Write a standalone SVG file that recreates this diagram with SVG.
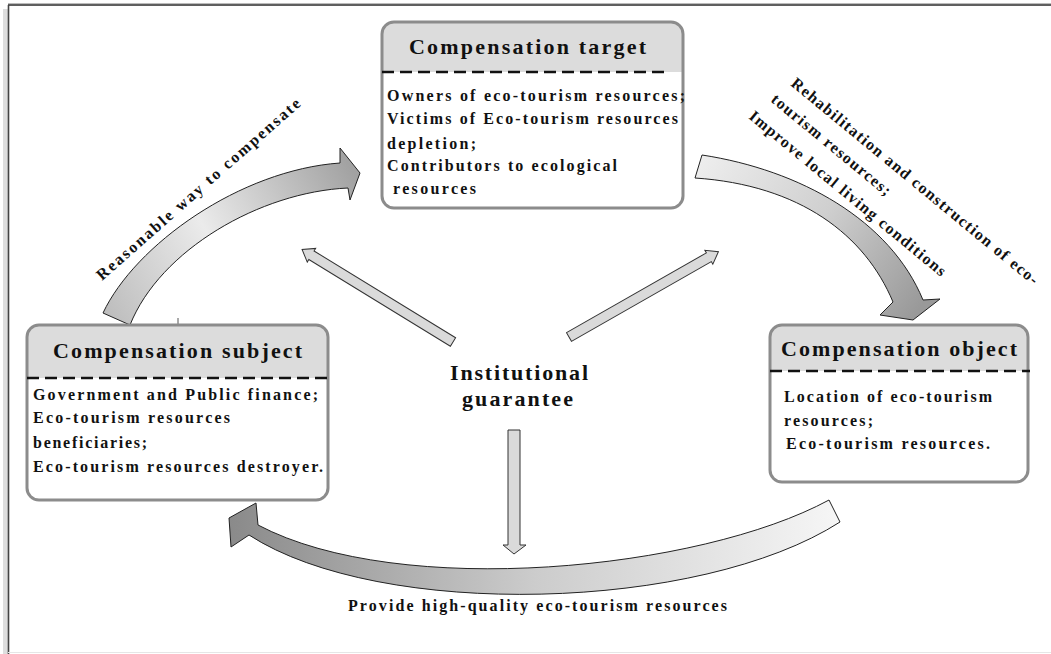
<svg xmlns="http://www.w3.org/2000/svg" width="1051" height="654" viewBox="0 0 1051 654">
<style>
text{font-family:"Liberation Serif","Times New Roman",serif;font-weight:bold;fill:#111}
.hd{font-size:22px;text-anchor:middle}
.bd{font-size:16px}
.lb{font-size:16px}
.box{fill:none;stroke:#8c8c8c;stroke-width:3}
.hdr{fill:#dcdcdc}
.dash{stroke:#111;stroke-width:2.5;stroke-dasharray:12 6}
.big{stroke:#222;stroke-width:1}
.thin{fill:#dadada;stroke:#333;stroke-width:1}
</style>
<defs>
<linearGradient id="g1" gradientUnits="userSpaceOnUse" x1="110" y1="320" x2="355" y2="175">
<stop offset="0" stop-color="#bdbdbd"/><stop offset="0.45" stop-color="#ebebeb"/><stop offset="1" stop-color="#a2a2a2"/>
</linearGradient>
<linearGradient id="g2" gradientUnits="userSpaceOnUse" x1="700" y1="165" x2="915" y2="315">
<stop offset="0" stop-color="#ededed"/><stop offset="0.5" stop-color="#cfcfcf"/><stop offset="1" stop-color="#999"/>
</linearGradient>
<linearGradient id="g3" gradientUnits="userSpaceOnUse" x1="230" y1="530" x2="840" y2="530">
<stop offset="0" stop-color="#8a8a8a"/><stop offset="0.5" stop-color="#cccccc"/><stop offset="1" stop-color="#f6f6f6"/>
</linearGradient>
</defs>
<rect width="1051" height="654" fill="#fff"/>
<g id="frame">
<rect x="3" y="9" width="5" height="645" fill="#dedede"/>
<line x1="8" y1="5" x2="1051" y2="5" stroke="#2a2a2a" stroke-width="1.6"/>
<line x1="8" y1="3.5" x2="1051" y2="3.5" stroke="#bbb" stroke-width="1"/>
<line x1="8.5" y1="5" x2="8.5" y2="654" stroke="#444" stroke-width="1.6"/>
<line x1="8" y1="652.5" x2="1051" y2="652.5" stroke="#e6e6e6" stroke-width="1"/>
</g>
<g id="connectors">
<path class="big" fill="url(#g1)" d="M103,313 C135,245 240,170 340,163 L340,148 L360,173 L350,200 L348,188 C260,192 160,250 130,325 Z"/>
<path class="big" fill="url(#g2)" d="M702,155 C800,170 890,220 923,300 L940,299 L913,320 L880,315 L893,302 C865,235 800,185 695,178 Z"/>
<path class="big" fill="url(#g3)" d="M829,500 C700,570 400,600 258,525 L256,503 L229,518 L231,547 L249,535 C380,620 700,612 840,522 Z"/>
<path class="thin" d="M508,430 L520,430 L520,545 L526,545 L514,554 L503,545 L508,545 Z"/>
<path class="thin" transform="translate(453,342) rotate(211.5)" d="M0,-5 L166,-5 L166,-8 L177,0 L166,8 L166,5 L0,5 Z"/>
<path class="thin" transform="translate(569,337) rotate(-29.7)" d="M0,-5 L161,-5 L161,-8 L172,0 L161,8 L161,5 L0,5 Z"/>
<line x1="178" y1="318" x2="178" y2="326" stroke="#555" stroke-width="1"/>
</g>
<g id="target">
<rect x="382" y="22" width="301" height="186" rx="12" fill="#fff"/>
<path class="hdr" d="M382,72 L382,34 Q382,22 394,22 L671,22 Q683,22 683,34 L683,72 Z"/>
<rect class="box" x="382" y="22" width="301" height="186" rx="12"/>
<line class="dash" x1="382" y1="72" x2="670" y2="72"/>
<text class="hd" x="527.5" y="54" textLength="237" lengthAdjust="spacing">Compensation target</text>
<text class="bd" x="387" y="101" textLength="298" lengthAdjust="spacing">Owners of eco-tourism resources;</text>
<text class="bd" x="387" y="124" textLength="291" lengthAdjust="spacing">Victims of Eco-tourism resources</text>
<text class="bd" x="387" y="149" textLength="89" lengthAdjust="spacing">depletion;</text>
<text class="bd" x="387" y="171" textLength="230" lengthAdjust="spacing">Contributors to ecological</text>
<text class="bd" x="393" y="194" textLength="83" lengthAdjust="spacing">resources</text>
</g>
<g id="subject">
<rect x="27" y="325" width="301" height="175" rx="12" fill="#fff"/>
<path class="hdr" d="M27,378 L27,337 Q27,325 39,325 L316,325 Q328,325 328,337 L328,378 Z"/>
<rect class="box" x="27" y="325" width="301" height="175" rx="12"/>
<line class="dash" x1="27" y1="378" x2="330" y2="378"/>
<text class="hd" x="177.5" y="358" textLength="249" lengthAdjust="spacing">Compensation subject</text>
<text class="bd" x="33" y="400" textLength="285" lengthAdjust="spacing">Government and Public finance;</text>
<text class="bd" x="33" y="423" textLength="197" lengthAdjust="spacing">Eco-tourism resources</text>
<text class="bd" x="33" y="448" textLength="114" lengthAdjust="spacing">beneficiaries;</text>
<text class="bd" x="33" y="472" textLength="290" lengthAdjust="spacing">Eco-tourism resources destroyer.</text>
</g>
<g id="object">
<rect x="770" y="325" width="258" height="157" rx="12" fill="#fff"/>
<path class="hdr" d="M770,371 L770,337 Q770,325 782,325 L1016,325 Q1028,325 1028,337 L1028,371 Z"/>
<rect class="box" x="770" y="325" width="258" height="157" rx="12"/>
<line class="dash" x1="770" y1="371" x2="1030" y2="371"/>
<text class="hd" x="899" y="356" textLength="236" lengthAdjust="spacing">Compensation object</text>
<text class="bd" x="784" y="402" textLength="208" lengthAdjust="spacing">Location of eco-tourism</text>
<text class="bd" x="784" y="426" textLength="89" lengthAdjust="spacing">resources;</text>
<text class="bd" x="786" y="449" textLength="204" lengthAdjust="spacing">Eco-tourism resources.</text>
</g>
<g id="guarantee">
<text class="hd" x="519" y="380" textLength="138" lengthAdjust="spacing">Institutional</text>
<text class="hd" x="517.5" y="406" textLength="111" lengthAdjust="spacing">guarantee</text>
</g>
<g id="labels">
<text class="lb" transform="translate(102,281) rotate(-41.4)" textLength="266" lengthAdjust="spacing">Reasonable way to compensate</text>
<text class="lb" transform="translate(790,85) rotate(39.5)" textLength="315" lengthAdjust="spacing">Rehabilitation and construction of eco-</text>
<text class="lb" transform="translate(770,101) rotate(39.5)" textLength="150" lengthAdjust="spacing">tourism resources;</text>
<text class="lb" transform="translate(748,118) rotate(39.5)" textLength="250" lengthAdjust="spacing">Improve local living conditions</text>
<text class="lb" x="348" y="611" textLength="379" lengthAdjust="spacing">Provide high-quality eco-tourism resources</text>
</g>
</svg>
